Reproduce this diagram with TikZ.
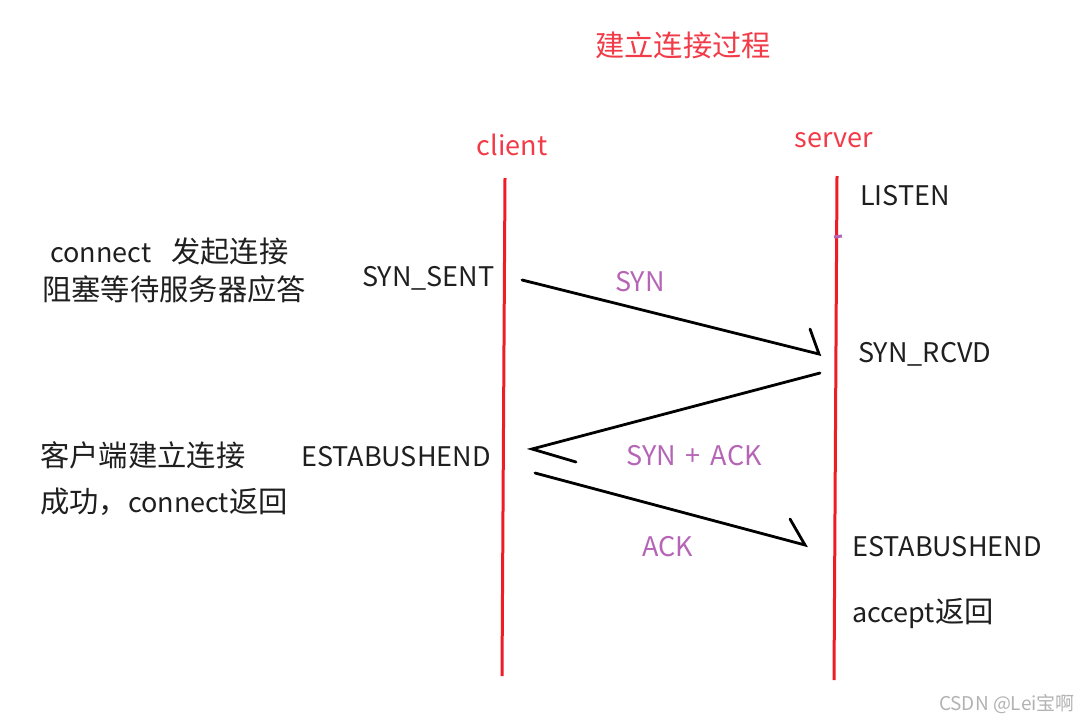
\documentclass[tikz,border=0pt]{standalone}
\usepackage{fontspec}
\setmainfont{Noto Sans CJK SC}
\usetikzlibrary{positioning}
\definecolor{linered}{HTML}{EE1C25}
\definecolor{txtred}{HTML}{F23B48}
\definecolor{msgpurple}{HTML}{B565B5}
\newcommand{\zh}[1]{{\fontsize{29.3}{34}\selectfont #1}}

\begin{document}
\begin{tikzpicture}[x=1pt, y=-1pt,
  lbl/.style={font=\fontsize{27}{32}\selectfont, text=black!88, inner sep=0pt, anchor=west},
  msg/.style={font=\fontsize{27}{32}\selectfont, text=msgpurple, inner sep=0pt},
  head/.style={font=\fontsize{27}{32}\selectfont, text=txtred, inner sep=0pt},
  life/.style={draw=linered, line width=3pt},
  pkt/.style={draw=black, line width=2.8pt, line cap=round}]
\useasboundingbox (0,0) rectangle (1086,723);

% title and the two ends
\node[head] (title) at (683,45) {\zh{建立连接过程}};
\node[head] (client) at (512,145) {client};
\node[head] (server) at (834,140) {server};

% life lines
\coordinate (cTop) at (505,178);
\coordinate (cBot) at (502,676);
\coordinate (sTop) at (837,176);
\coordinate (sBot) at (834,680);
\draw[life] (cTop) -- (cBot);
\draw[life] (sTop) -- (sBot);
\draw[draw=msgpurple, line width=3pt] (834,237) -- (842,236);

% states
\node[lbl] (listen) at (860,196) {LISTEN};
\node[lbl] (synsent) at (362,278) {SYN\_SENT};
\node[lbl] (synrcvd) at (858,354) {SYN\_RCVD};
\node[lbl] (estC) at (301,457) {ESTABUSHEND};
\node[lbl] (estS) at (852,547) {ESTABUSHEND};
\node[lbl] (accret) at (852,614) {accept\zh{返回}};

% notes on the client side
\node[lbl] (connnote) at (50,251) {connect\hspace{20pt}\zh{发起连接}};
\node[lbl] (blocknote) at (42,289) {\zh{阻塞等待服务器应答}};
\node[lbl] (okA) at (40,455) {\zh{客户端建立连接}};
\node[lbl] (okB) at (40,502) {\zh{成功，}connect\zh{返回}};

% packets
\coordinate (p1s) at (522,280);
\coordinate (p1e) at (819,354);
\coordinate (p2s) at (820,373);
\coordinate (p2e) at (532,449);
\coordinate (p3s) at (535,473);
\coordinate (p3e) at (805,545);
\draw[pkt] (p1s) -- (p1e) -- ++(-9,-25);
\draw[pkt] (p2s) -- (p2e) -- ++(44,13);
\draw[pkt] (p3s) -- (p3e) -- ++(-15,-26);
\node[msg] (syn) at (640,282) {SYN};
\node[msg] (synack) at (694,456) {SYN\hspace{10pt}+\hspace{10pt}ACK};
\node[msg] (ack) at (668,547) {ACK};

% watermark
\node[font=\fontsize{19}{22}\selectfont, text=black!30, inner sep=0pt, anchor=east] (mark) at (1075,704) {CSDN @Lei宝啊};
\end{tikzpicture}
\end{document}
